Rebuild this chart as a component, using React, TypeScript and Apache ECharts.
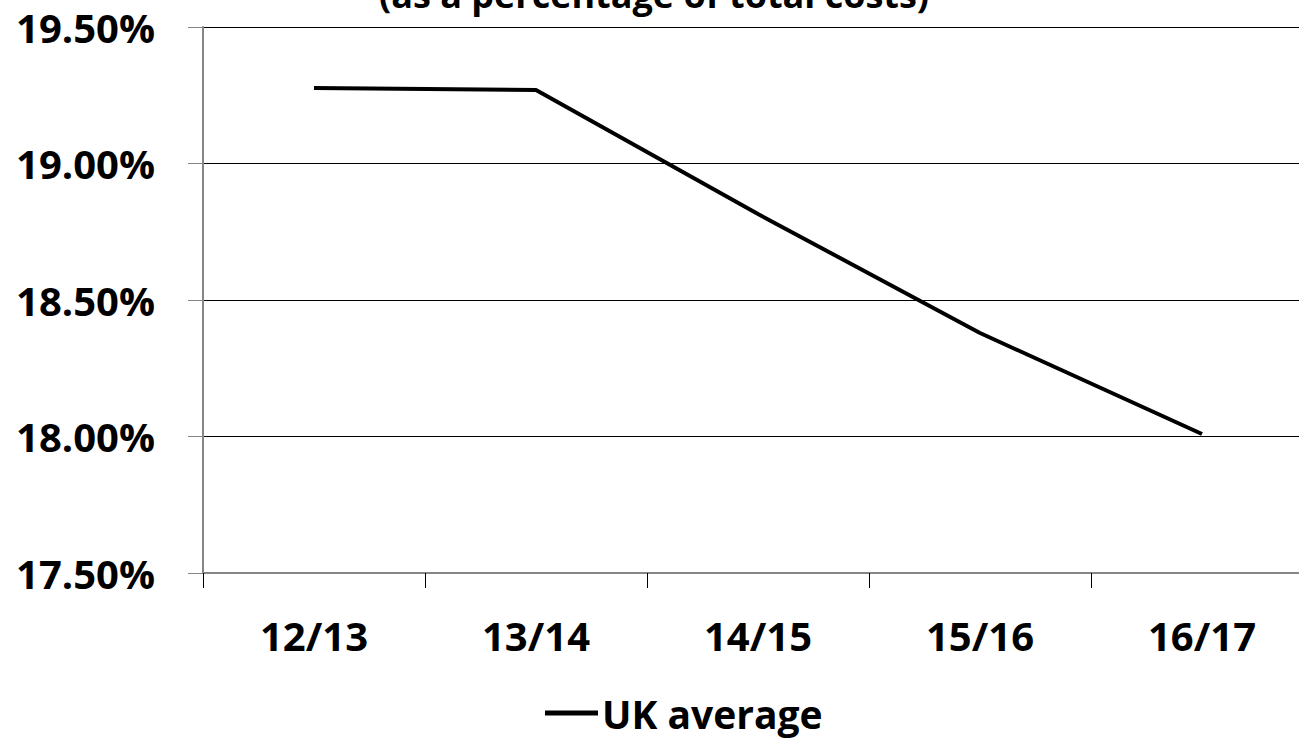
import React, { useEffect, useRef } from "react";
import * as echarts from "echarts";

const categories = ["12/13", "13/14", "14/15", "15/16", "16/17"];
const ukAverage = [19.277, 19.269, 18.815, 18.379, 18.009];
const seriesName = "UK average";
const titleText = "(as a percentage of total costs)";

const FONT = "Open Sans";

export default function App() {
  const ref = useRef<HTMLDivElement>(null);
  useEffect(() => {
    if (!ref.current) return;
    const chart = echarts.init(ref.current, undefined, { renderer: "svg" });
    chart.setOption({
      animation: false,
      backgroundColor: "#ffffff",
      title: {
        text: titleText,
        left: 649,
        textAlign: "center",
        top: -29,
        textStyle: { fontFamily: FONT, fontWeight: "bold", fontSize: 36, color: "#000" },
      },
      grid: { left: 203, top: 27, bottom: 166, right: 0, containLabel: false },
      legend: {
        data: [{ name: seriesName, icon: "rect" }],
        left: 545,
        top: 693,
        padding: 0,
        itemWidth: 53,
        itemHeight: 5,
        itemGap: 0,
        textStyle: {
          fontFamily: FONT,
          fontWeight: "bold",
          fontSize: 39,
          lineHeight: 40,
          color: "#000",
          padding: [0, 0, 0, -1],
        },
      },
      xAxis: {
        type: "category",
        data: categories,
        boundaryGap: true,
        axisLine: { lineStyle: { color: "#868686", width: 2 } },
        axisTick: { show: true, length: 15, lineStyle: { color: "#000", width: 1 } },
        axisLabel: { fontFamily: FONT, fontWeight: "bold", fontSize: 40, color: "#000", margin: 42 },
      },
      yAxis: {
        type: "value",
        min: 17.5,
        max: 19.5,
        interval: 0.5,
        axisLine: { show: true, lineStyle: { color: "#868686", width: 2 } },
        axisTick: { show: true, length: 15, lineStyle: { color: "#868686", width: 1 } },
        axisLabel: {
          fontFamily: FONT,
          fontWeight: "bold",
          fontSize: 40,
          color: "#000",
          margin: 48,
          formatter: (v: number) => v.toFixed(2) + "%",
        },
        splitLine: { show: true, lineStyle: { color: "#000", width: 1 } },
      },
      series: [
        {
          name: seriesName,
          type: "line",
          data: ukAverage,
          symbol: "none",
          lineStyle: { color: "#000", width: 4 },
          itemStyle: { color: "#000" },
        },
      ],
    });
    return () => chart.dispose();
  }, []);
  return (
    <div
      style={{ position: "absolute", left: 0, top: 0, width: 1299, height: 739, overflow: "hidden" }}
    >
      <div ref={ref} style={{ width: 1313, height: 739 }} />
    </div>
  );
}
